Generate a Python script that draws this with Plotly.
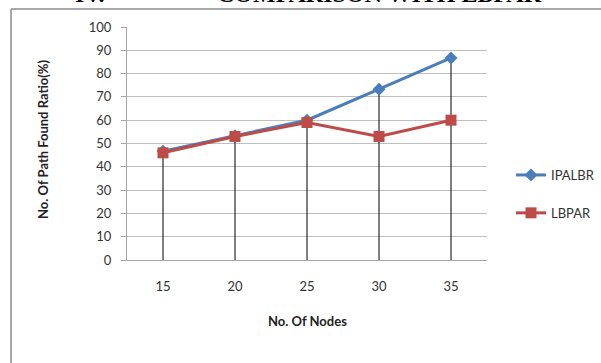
import plotly.graph_objects as go

# Number of nodes in the network (category axis)
nodes = ["15", "20", "25", "30", "35"]
# Path found ratio (%) for each protocol
ipalbr = [46.7, 53.3, 60.0, 73.3, 86.7]
lbpar = [46.0, 53.0, 59.0, 53.0, 60.0]
y_ticks = [0, 10, 20, 30, 40, 50, 60, 70, 80, 90, 100]

FONT = "Lato"
BLUE = "#4a7ebb"
RED = "#be4b48"

# Drop lines from the highest point of each category down to the axis
drop_x, drop_y = [], []
for n, a, b in zip(nodes, ipalbr, lbpar):
    drop_x += [n, n, None]
    drop_y += [0, max(a, b), None]

fig = go.Figure()
fig.add_trace(go.Scatter(
    x=drop_x, y=drop_y, mode="lines",
    line=dict(color="black", width=1),
    showlegend=False, hoverinfo="skip",
))
fig.add_trace(go.Scatter(
    x=nodes, y=ipalbr, name="IPALBR", mode="lines+markers",
    line=dict(color=BLUE, width=3),
    marker=dict(symbol="diamond", size=10, color=BLUE),
    legendgroup="a",
))
fig.add_trace(go.Scatter(
    x=nodes, y=lbpar, name="LBPAR", mode="lines+markers",
    line=dict(color=RED, width=3),
    marker=dict(symbol="square", size=11, color=RED),
    legendgroup="b",
))

# Plot area in pixels
L, R, T, B = 127, 487, 27, 260
W, H = 601, 363


def px(x):
    return (x - L) / (R - L)


def py(y):
    return (B - y) / (B - T)


def note(text, x, y, size=13, family=FONT, angle=0, color="#222", yanchor="middle"):
    return dict(text=text, xref="paper", yref="paper", x=px(x), y=py(y),
                xanchor="center", yanchor=yanchor, showarrow=False,
                textangle=angle, font=dict(size=size, family=family, color=color))


fig.update_layout(
    width=W, height=H,
    margin=dict(l=L, r=W - R, t=T, b=H - B, pad=0, autoexpand=False),
    paper_bgcolor="white", plot_bgcolor="white",
    font=dict(family=FONT, size=13, color="#333"),
    showlegend=True,
    legend=dict(
        x=px(511), y=py(160), xanchor="left", yanchor="top",
        bgcolor="rgba(0,0,0,0)", traceorder="grouped",
        tracegroupgap=18, font=dict(size=13, family=FONT),
    ),
    xaxis=dict(
        type="category", range=[-0.5, 4.5], showgrid=False, showline=True,
        linecolor="#a6a6a6", linewidth=1, ticks="",
        ticklabelstandoff=14, zeroline=False,
    ),
    yaxis=dict(
        range=[0, 100], tickvals=y_ticks, showgrid=True,
        gridcolor="#bfbfbf", gridwidth=1, showline=True,
        linecolor="#a6a6a6", linewidth=1, ticks="outside",
        ticklen=5, tickcolor="#a6a6a6", ticklabelstandoff=7,
        zeroline=False,
    ),
    annotations=[
        note("<b>No. Of Nodes</b>", 307, 321),
        note("<b>No. Of Path Found Ratio(%)</b>", 43, 140, angle=-90),
        note("<b>IV.</b>", 90, -21, size=24, family="Liberation Serif",
             color="black", yanchor="top"),
        note("<b>COMPARISON WITH LBPAR</b>", 379, -21, size=24,
             family="Liberation Serif", color="black", yanchor="top"),
    ],
    shapes=[
        # chart frame (left and top edges visible)
        dict(type="line", xref="paper", yref="paper",
             x0=px(11), x1=px(620), y0=py(9), y1=py(9),
             line=dict(color="#8c8c8c", width=1.5)),
        dict(type="line", xref="paper", yref="paper",
             x0=px(11), x1=px(11), y0=py(9), y1=py(400),
             line=dict(color="#8c8c8c", width=1.5)),
    ],
)

fig.write_html("out.html")
